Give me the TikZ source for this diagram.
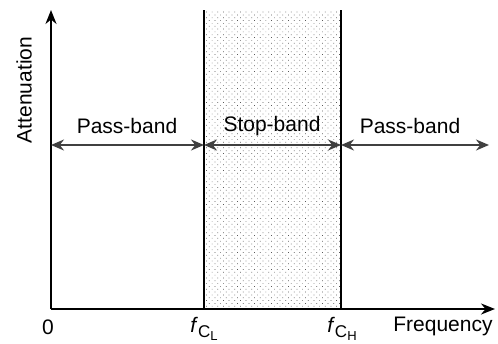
\documentclass[tikz,border=0pt]{standalone}
\usepackage{fontspec}
\setmainfont{Liberation Sans}
\usetikzlibrary{arrows.meta,patterns.meta}
\newcommand{\cutoff}[1]{\textit{f}\raisebox{-0.45ex}{\fontsize{8.5}{9}\selectfont C\raisebox{-0.4ex}{\fontsize{6.5}{7}\selectfont #1}}}
\tikzset{
  axis/.style={line width=1pt, -{Stealth[length=7pt,width=5.5pt]}},
  band/.style={line width=0.9pt, draw=black!75, {Stealth[length=6.5pt,width=5.5pt]}-{Stealth[length=6.5pt,width=5.5pt]}},
  edge/.style={line width=0.7pt},
  lbl/.style={font=\fontsize{10.5}{12}\selectfont, inner sep=0pt}
}
\begin{document}
\begin{tikzpicture}[x=0.5pt,y=-0.5pt]
\useasboundingbox (0,0) rectangle (498,343);
% stop-band shading
\fill[pattern={Dots[radius=0.25pt,distance=2pt,angle=45]}, pattern color=black!65] (204,10) rectangle (341,309);
\coordinate (o) at (51,309);
\coordinate (ytop) at (51,10);
\coordinate (xend) at (495,309);
\coordinate (lo) at (204,309);
\coordinate (hi) at (341,309);
\coordinate (lotop) at (204,10);
\coordinate (hitop) at (341,10);
\draw[edge] (lo) -- (lotop);
\draw[edge] (hi) -- (hitop);
\draw[axis] (o) -- (ytop);
\draw[axis] (o) -- (xend);
% band arrows
\coordinate (a) at (51,145);
\coordinate (b) at (204,145);
\coordinate (c) at (341,145);
\coordinate (d) at (489,145);
\draw[band] (a) -- (b);
\draw[band] (b) -- (c);
\draw[band] (c) -- (d);
\node[lbl] (pass1) at (127,126) {Pass-band};
\node[lbl] (stop) at (272,126) {Stop-band};
\node[lbl] (pass2) at (410,126) {Pass-band};
\node[lbl, rotate=90] (att) at (24,90) {Attenuation};
% tick labels
\node[lbl] (zero) at (48,327) {0};
\node[lbl] (fl) at (204,329) {\cutoff{L}};
\node[lbl] (fh) at (342,329) {\cutoff{H}};
\node[lbl] (freq) at (443,326) {Frequency};
\end{tikzpicture}
\end{document}
